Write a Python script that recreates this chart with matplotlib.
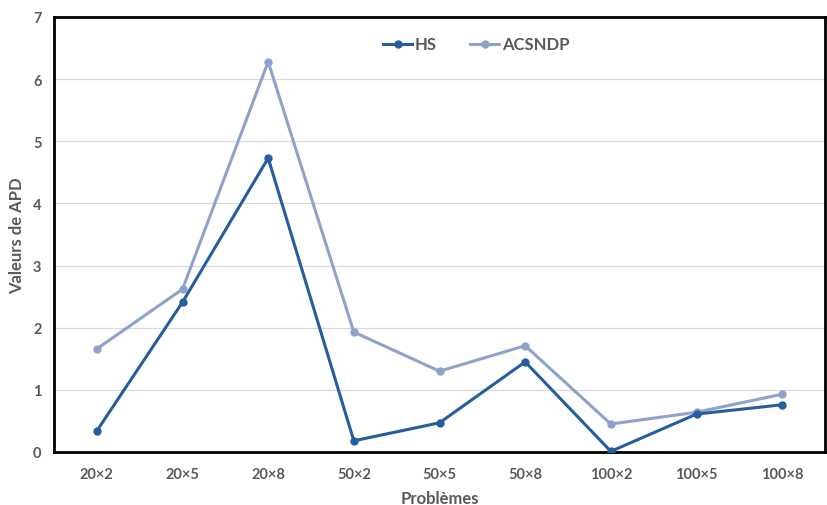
import matplotlib
matplotlib.use("Agg")
import matplotlib.pyplot as plt

categories = ["20×2", "20×5", "20×8", "50×2", "50×5", "50×8", "100×2", "100×5", "100×8"]
hs = [0.34, 2.41, 4.73, 0.18, 0.47, 1.45, 0.01, 0.61, 0.76]
acsndp = [1.66, 2.62, 6.28, 1.93, 1.30, 1.71, 0.45, 0.64, 0.93]

plt.rcParams['font.family'] = ['Lato', 'DejaVu Sans']
gray = '#595959'

fig = plt.figure(figsize=(8.27, 5.06), dpi=100)
ax = fig.add_axes([54/827, 1-453/506, (825-54)/827, (453-18)/506])

x = list(range(len(categories)))
ax.plot(x, hs, color='#255E9C', lw=2.2, marker='o', ms=5, label='HS', zorder=3)
ax.plot(x, acsndp, color='#8FA2CC', lw=2.2, marker='o', ms=5, label='ACSNDP', zorder=2)

ax.set_xlim(-0.5, 8.5)
ax.set_ylim(0, 7)
ax.set_yticks(range(0, 8))
ax.set_xticks(x)
ax.set_xticklabels(categories)
ax.grid(axis='y', color='#D9D9D9', lw=0.9)
ax.set_axisbelow(True)
for s in ax.spines.values():
    s.set_color('black')
    s.set_linewidth(2)
ax.tick_params(length=0, labelsize=10.5, labelcolor=gray)
ax.tick_params(axis='x', pad=11)
ax.tick_params(axis='y', pad=9)
for lab in ax.get_xticklabels() + ax.get_yticklabels():
    lab.set_fontweight('bold')

ax.set_xlabel('Problèmes', fontsize=12, fontweight='bold', color=gray, labelpad=6)
ax.set_ylabel('Valeurs de APD', fontsize=12, fontweight='bold', color=gray, labelpad=6)

leg = ax.legend(loc='upper center', bbox_to_anchor=(0.548, 0.99), ncol=2, frameon=False,
                prop={'weight': 'bold', 'size': 12}, handlelength=1.7, columnspacing=2,
                handletextpad=0.2)
for t in leg.get_texts():
    t.set_color(gray)

fig.savefig('out.png', dpi=100)
